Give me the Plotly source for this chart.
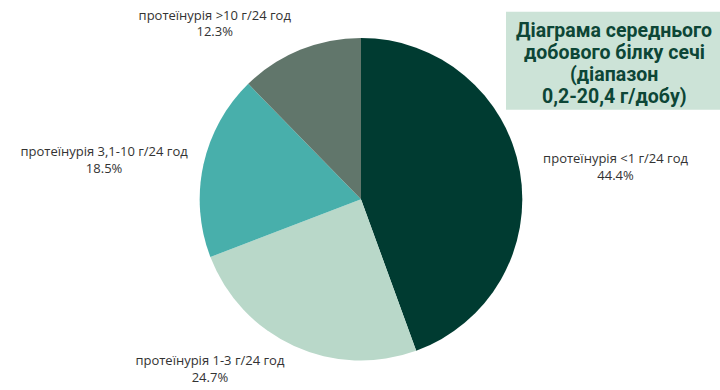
import plotly.graph_objects as go

labels = ["протеїнурія <1 г/24 год", "протеїнурія 1-3 г/24 год",
          "протеїнурія 3,1-10 г/24 год", "протеїнурія >10 г/24 год"]
values = [44.4, 24.7, 18.5, 12.3]
colors = ["#003b31", "#b9d8c9", "#48afab", "#61766b"]
title_lines = ["Діаграма середнього", "добового білку сечі", "(діапазон", "0,2-20,4 г/добу)"]

W, H = 720, 390
cx, cy, r = 361, 201, 162      # pie centre / radius in px
r_text = 177                   # radius used for the label ring

def dom(rad, dx=0, dy=0):
    return dict(x=[(cx + dx - rad) / W, (cx + dx + rad) / W],
                y=[(H - cy - dy - rad) / H, (H - cy - dy + rad) / H])

fig = go.Figure()
fig.add_trace(go.Pie(
    labels=labels, values=values, sort=False, direction="clockwise", rotation=0,
    marker=dict(colors=colors, line=dict(width=0)),
    textinfo="none", hoverinfo="label+percent",
    domain=dom(r + 4, dy=4), showlegend=False,
))
fig.add_trace(go.Pie(
    labels=labels, values=values, sort=False, direction="clockwise", rotation=0,
    marker=dict(colors=["rgba(0,0,0,0)"] * len(values), line=dict(width=0)),
    textposition="outside",
    texttemplate="%{label}<br>%{percent:.1%}",
    textfont=dict(family="Open Sans", size=13, color="#333333"),
    hoverinfo="skip",
    domain=dom(r_text, dx=4, dy=2), showlegend=False,
))

# title box
fig.add_shape(type="rect", xref="paper", yref="paper",
              x0=506 / W, x1=720 / W, y0=(H - 113) / H, y1=(H - 12) / H,
              fillcolor="#cce3d7", line=dict(width=0), layer="below")
for i, line in enumerate(title_lines):
    fig.add_annotation(
        text=line, xref="paper", yref="paper", x=614 / W, y=(H - (31 + 22.6 * i)) / H,
        xanchor="center", yanchor="middle", showarrow=False,
        font=dict(family="Roboto", size=19.5, color="#0d4636", weight="bold"),
    )

fig.update_layout(
    width=W, height=H, margin=dict(l=0, r=0, t=0, b=0),
    paper_bgcolor="white", plot_bgcolor="white",
)
fig.write_html("out.html", config={"displayModeBar": False},
               post_script="document.body.style.margin='0';")
